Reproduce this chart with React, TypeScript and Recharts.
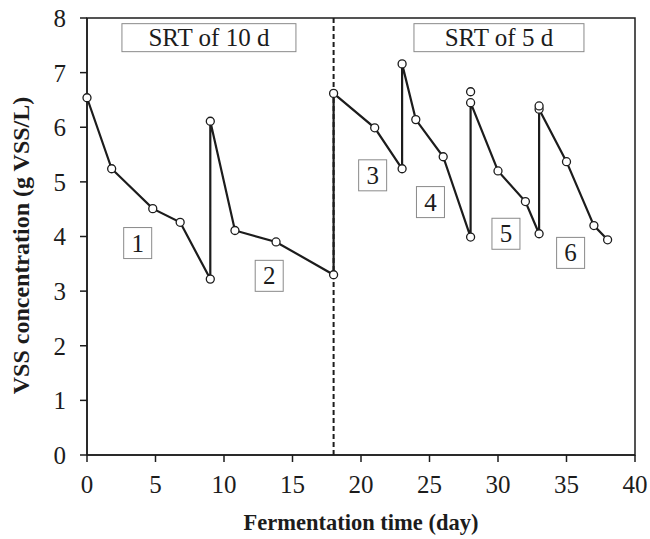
import React from 'react';
import {
  ComposedChart,
  Line,
  XAxis,
  YAxis,
  ReferenceLine,
  ReferenceArea,
  ReferenceDot,
  Label,
} from 'recharts';

const days = [0, 1.8, 4.8, 6.8, 9, 9, 10.8, 13.8, 18, 18, 21, 23, 23, 24, 26, 28, 28, 30, 32, 33, 33, 35, 37, 38];
const vss = [6.54, 5.24, 4.51, 4.26, 3.22, 6.11, 4.11, 3.9, 3.3, 6.62, 5.99, 5.24, 7.16, 6.14, 5.46, 3.99, 6.45, 5.2, 4.64, 4.05, 6.33, 5.37, 4.2, 3.94];
const extraDays = [28, 33];
const extraVss = [6.65, 6.39];
const xTicks = [0, 5, 10, 15, 20, 25, 30, 35, 40];
const yTicks = [0, 1, 2, 3, 4, 5, 6, 7, 8];
const srtLabels = ['SRT of 10 d', 'SRT of 5 d'];
const srtDays = [8.9, 30.07];
const srtVss = [7.64, 7.64];
const phaseLabels = ['1', '2', '3', '4', '5', '6'];
const phaseDays = [3.7, 13.3, 20.85, 25.07, 30.58, 35.3];
const phaseVss = [3.88, 3.28, 5.12, 4.63, 4.05, 3.7];

const mainData = days.map((d, i) => ({ day: d, vss: vss[i] }));
const extraData = extraDays.map((d, i) => ({ day: d, vss: extraVss[i] }));

const FONT = '"Liberation Serif", "Times New Roman", serif';
const INK = '#1c1c1c';

const dot = { r: 4, fill: '#fff', stroke: INK, strokeWidth: 1.3 };

const boxShape = (text: string, w: number, h: number, fs: number) => (p: any) => (
  <g>
    <rect x={p.cx - w / 2} y={p.cy - h / 2} width={w} height={h} fill="#fff" stroke="#8a8a8a" strokeWidth={1} />
    <text x={p.cx} y={p.cy} textAnchor="middle" dominantBaseline="central" fontFamily={FONT} fontSize={fs} fill={INK}>
      {text}
    </text>
  </g>
);

export default function App() {
  return (
    <div style={{ position: 'absolute', left: 0, top: 0, background: '#fff' }}>
      <ComposedChart width={650} height={539} margin={{ top: 18, right: 15, bottom: 0, left: 0 }}>
        <XAxis
          type="number"
          dataKey="day"
          domain={[0, 40]}
          ticks={xTicks}
          allowDuplicatedCategory={false}
          height={84}
          tickSize={7}
          tickMargin={13}
          axisLine={{ stroke: INK, strokeWidth: 1.5 }}
          tickLine={{ stroke: INK, strokeWidth: 1.5 }}
          tick={{ fontFamily: FONT, fontSize: 25, fill: INK }}
        >
          <Label
            content={(props: any) => {
              const vb = props.viewBox;
              return (
                <text x={vb.x + vb.width / 2} y={vb.y + 75} textAnchor="middle" fontFamily={FONT} fontSize={22.5} fontWeight="bold" fill={INK}>
                  Fermentation time (day)
                </text>
              );
            }}
          />
        </XAxis>
        <YAxis
          type="number"
          domain={[0, 8]}
          ticks={yTicks}
          width={87}
          tickSize={7}
          tickMargin={14}
          axisLine={{ stroke: INK, strokeWidth: 1.5 }}
          tickLine={{ stroke: INK, strokeWidth: 1.5 }}
          tick={{ fontFamily: FONT, fontSize: 25, fill: INK }}
        >
          <Label
            content={(props: any) => {
              const vb = props.viewBox;
              const cx = vb.x + 21;
              const cy = vb.y + vb.height / 2 + 9;
              return (
                <text x={cx} y={cy} transform={`rotate(-90 ${cx} ${cy})`} textAnchor="middle" dominantBaseline="central" fontFamily={FONT} fontSize={24} fontWeight="bold" fill={INK}>
                  VSS concentration (g VSS/L)
                </text>
              );
            }}
          />
        </YAxis>
        <ReferenceArea x1={0} x2={40} y1={0} y2={8} fill="none" stroke={INK} strokeWidth={1.5} />
        <ReferenceLine x={18} stroke={INK} strokeWidth={2} strokeDasharray="5 3" />
        {srtLabels.map((t, i) => (
          <ReferenceDot key={t} x={srtDays[i]} y={srtVss[i]} r={1} shape={boxShape(t, i === 0 ? 174 : 170, 28, 25)} />
        ))}
        {phaseLabels.map((t, i) => (
          <ReferenceDot key={t} x={phaseDays[i]} y={phaseVss[i]} r={1} shape={boxShape(t, 28, 31, 25)} />
        ))}
        <Line
          data={mainData}
          dataKey="vss"
          type="linear"
          stroke={INK}
          strokeWidth={2.2}
          dot={dot}
          activeDot={false}
          isAnimationActive={false}
        />
        <Line
          data={extraData}
          dataKey="vss"
          type="linear"
          stroke="none"
          dot={dot}
          activeDot={false}
          isAnimationActive={false}
        />
      </ComposedChart>
    </div>
  );
}
